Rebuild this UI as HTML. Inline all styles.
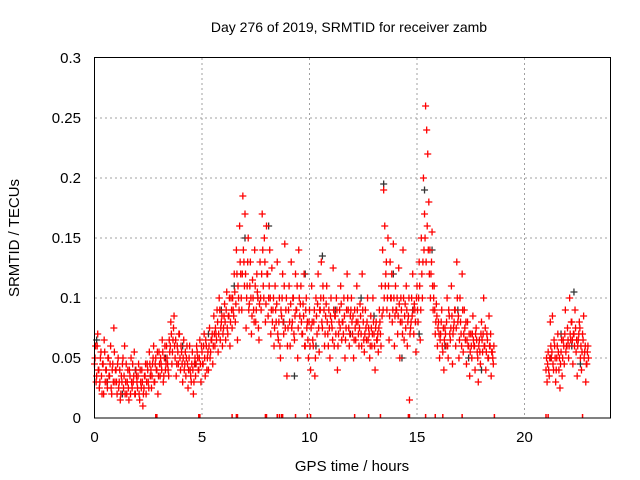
<!DOCTYPE html>
<html><head><meta charset="utf-8"><style>
body{margin:0;background:#fff;}
svg{display:block;font-family:"Liberation Sans",sans-serif;}
</style></head><body>
<svg id="chart" width="640" height="480">
<text x="349" y="32" text-anchor="middle" font-size="14">Day 276 of 2019, SRMTID for receiver zamb</text>
<text x="352" y="471" text-anchor="middle" font-size="15">GPS time / hours</text>
<text transform="translate(19,238) rotate(-90)" text-anchor="middle" font-size="15">SRMTID / TECUs</text>
<g id="grid"></g><g id="ticks"></g><g id="marks"></g>
<rect x="94.5" y="57.5" width="516" height="360.5" fill="none" stroke="#000" stroke-width="1"/>
</svg>
<script>
const xTicks=[0,5,10,15,20];
const yTicks=[0,0.05,0.1,0.15,0.2,0.25,0.3];
const yTickLabels=["0","0.05","0.1","0.15","0.2","0.25","0.3"];
const redT=[0.0,0.05,0.1,0.15,0.2,0.25,0.3,0.35,0.4,0.45,0.5,0.55,0.6,0.65,0.7,0.75,0.8,0.85,0.9,0.95,1.0,1.05,1.1,1.15,1.2,1.25,1.3,1.35,1.4,1.45,1.5,1.55,1.6,1.65,1.7,1.75,1.8,1.85,1.9,1.95,2.0,2.05,2.1,2.15,2.2,2.25,2.3,2.35,2.4,2.45,2.5,2.55,2.6,2.65,2.7,2.75,2.8,2.85,2.9,2.95,3.0,3.05,3.1,3.15,3.2,3.25,3.3,3.35,3.4,3.45,3.5,3.55,3.6,3.65,3.7,3.75,3.8,3.85,3.9,3.95,4.0,4.05,4.1,4.15,4.2,4.25,4.3,4.35,4.4,4.45,4.5,4.55,4.6,4.65,4.7,4.75,4.8,4.85,4.9,4.95,5.0,5.05,5.1,5.15,5.2,5.25,5.3,5.35,5.4,5.45,5.5,5.55,5.6,5.65,5.7,5.75,5.8,5.85,5.9,5.95,6.0,6.05,6.1,6.15,6.2,6.25,6.3,6.35,6.4,6.45,6.5,6.55,6.6,6.65,6.7,6.75,6.8,6.85,6.9,6.95,7.0,7.05,7.1,7.15,7.2,7.25,7.3,7.35,7.4,7.45,7.5,7.55,7.6,7.65,7.7,7.75,7.8,7.85,7.9,7.95,8.0,8.05,8.1,8.15,8.2,8.25,8.3,8.35,8.4,8.45,8.5,8.55,8.6,8.65,8.7,8.75,8.8,8.85,8.9,8.95,9.0,9.05,9.1,9.15,9.2,9.25,9.3,9.35,9.4,9.45,9.5,9.55,9.6,9.65,9.7,9.75,9.8,9.85,9.9,9.95,10.0,10.05,10.1,10.15,10.2,10.25,10.3,10.35,10.4,10.45,10.5,10.55,10.6,10.65,10.7,10.75,10.8,10.85,10.9,10.95,11.0,11.05,11.1,11.15,11.2,11.25,11.3,11.35,11.4,11.45,11.5,11.55,11.6,11.65,11.7,11.75,11.8,11.85,11.9,11.95,12.0,12.05,12.1,12.15,12.2,12.25,12.3,12.35,12.4,12.45,12.5,12.55,12.6,12.65,12.7,12.75,12.8,12.85,12.9,12.95,13.0,13.05,13.1,13.15,13.2,13.25,13.3,13.35,13.4,13.45,13.5,13.55,13.6,13.65,13.7,13.75,13.8,13.85,13.9,13.95,14.0,14.05,14.1,14.15,14.2,14.25,14.3,14.35,14.4,14.45,14.5,14.55,14.6,14.65,14.7,14.75,14.8,14.85,14.9,14.95,15.0,15.05,15.1,15.15,15.2,15.25,15.3,15.35,15.4,15.45,15.5,15.55,15.6,15.65,15.7,15.75,15.8,15.85,15.9,15.95,16.0,16.05,16.1,16.15,16.2,16.25,16.3,16.35,16.4,16.45,16.5,16.55,16.6,16.65,16.7,16.75,16.8,16.85,16.9,16.95,17.0,17.05,17.1,17.15,17.2,17.25,17.3,17.35,17.4,17.45,17.5,17.55,17.6,17.65,17.7,17.75,17.8,17.85,17.9,17.95,18.0,18.05,18.1,18.15,18.2,18.25,18.3,18.35,18.4,18.45,18.5,18.55,21.0,21.05,21.1,21.15,21.2,21.25,21.3,21.35,21.4,21.45,21.5,21.55,21.6,21.65,21.7,21.75,21.8,21.85,21.9,21.95,22.0,22.05,22.1,22.15,22.2,22.25,22.3,22.35,22.4,22.45,22.5,22.55,22.6,22.65,22.7,22.75,22.8,22.85,22.9,22.95];
const redV=[.045,.06,.035,.07,.04,.03,.055,.02,.045,.065,.03,.04,.025,.05,.035,.06,.02,.045,.075,.03,.04,.02,.05,.03,.015,.035,.045,.025,.06,.03,.02,.04,.015,.035,.05,.025,.03,.055,.02,.035,.025,.045,.015,.03,.04,.01,.025,.035,.02,.045,.03,.055,.035,.025,.045,.06,.03,.05,.04,.02,.055,.035,.045,.065,.03,.05,.04,.06,.045,.035,.055,.08,.045,.065,.085,.05,.035,.06,.045,.07,.04,.055,.03,.065,.045,.035,.06,.025,.05,.04,.03,.055,.02,.045,.035,.06,.05,.04,.065,.03,.055,.045,.07,.035,.06,.05,.04,.075,.055,.065,.045,.085,.06,.07,.09,.055,.1,.065,.08,.06,.075,.095,.065,.105,.07,.085,.06,.1,.075,.09,.12,.08,.14,.065,.1,.16,.12,.09,.185,.13,.17,.075,.11,.15,.095,.13,.07,.115,.09,.14,.08,.12,.1,.065,.13,.09,.17,.11,.15,.08,.16,.12,.1,.14,.07,.125,.09,.06,.11,.08,.13,.065,.1,.05,.085,.12,.07,.145,.09,.035,.075,.11,.06,.13,.08,.1,.065,.12,.09,.05,.14,.085,.11,.07,.095,.12,.06,.1,.08,.05,.09,.04,.11,.065,.08,.035,.1,.07,.12,.055,.09,.13,.075,.1,.06,.085,.11,.07,.09,.05,.1,.075,.125,.06,.085,.1,.04,.07,.09,.11,.065,.08,.1,.05,.075,.12,.09,.06,.085,.1,.07,.05,.09,.065,.11,.08,.06,.095,.07,.12,.08,.055,.09,.065,.1,.075,.05,.085,.06,.1,.07,.04,.08,.065,.055,.09,.07,.11,.14,.19,.16,.12,.09,.15,.065,.13,.1,.08,.145,.06,.11,.09,.07,.125,.05,.1,.08,.14,.065,.095,.11,.06,.085,.015,.075,.1,.12,.07,.09,.055,.11,.08,.13,.065,.15,.1,.2,.17,.26,.24,.22,.18,.14,.12,.155,.09,.11,.07,.095,.06,.08,.05,.07,.09,.055,.04,.075,.06,.1,.05,.085,.065,.11,.045,.075,.09,.06,.13,.08,.05,.1,.07,.12,.055,.09,.065,.045,.08,.06,.035,.07,.05,.085,.06,.04,.075,.055,.03,.065,.045,.08,.055,.1,.06,.04,.07,.05,.085,.06,.035,.055,.045,.04,.03,.055,.035,.08,.05,.085,.04,.06,.03,.05,.07,.04,.025,.055,.035,.065,.045,.09,.06,.075,.05,.1,.065,.08,.045,.07,.09,.055,.035,.065,.08,.05,.04,.07,.085,.055,.03,.045,.06];
const redV2=[.05,.03,.06,.04,.025,.05,.035,.045,.02,.055,.04,.03,.05,.035,.045,.025,.04,.03,.055,.04,
.03,.045,.025,.04,.02,.03,.05,.035,.02,.045,.03,.025,.04,.02,.03,.045,.035,.02,.04,.03,
.035,.02,.04,.025,.03,.02,.035,.045,.03,.04,.025,.045,.04,.035,.05,.03,.045,.04,.055,.035,
.045,.05,.04,.055,.035,.06,.045,.05,.04,.065,.06,.07,.055,.075,.06,.065,.045,.055,.07,.05,
.06,.045,.05,.04,.055,.05,.045,.04,.06,.035,.045,.04,.03,.05,.045,.055,.04,.05,.045,.06,
.045,.06,.05,.065,.04,.055,.06,.05,.065,.07,.06,.07,.075,.065,.08,.07,.09,.075,.085,.07,
.085,.08,.09,.075,.085,.1,.08,.09,.1,.085,.105,.095,.12,.11,.09,.13,.1,.12,.14,.11,
.12,.1,.13,.09,.11,.1,.085,.1,.08,.11,.09,.105,.075,.095,.1,.12,.14,.1,.13,.095,
.12,.085,.11,.1,.09,.08,.1,.075,.09,.095,.07,.08,.06,.09,.1,.08,.11,.075,.1,.06,
.09,.08,.095,.075,.1,.07,.085,.09,.11,.075,.1,.095,.08,.07,.085,.06,.09,.075,.065,.08,
.06,.075,.08,.06,.09,.05,.085,.095,.075,.09,.1,.08,.11,.09,.07,.095,.08,.06,.075,.085,
.08,.065,.09,.085,.07,.09,.06,.08,.075,.095,.08,.07,.085,.065,.09,.1,.075,.07,.09,.08,
.085,.065,.075,.08,.09,.07,.075,.085,.06,.09,.065,.07,.075,.08,.065,.07,.06,.075,.07,.08,
.06,.075,.065,.07,.075,.08,.06,.085,.09,.1,.11,.13,.1,.11,.085,.1,.12,.09,.1,.085,
.09,.1,.085,.095,.08,.09,.07,.1,.085,.075,.09,.08,.1,.07,.08,.085,.09,.095,.08,.1,
.09,.1,.11,.09,.12,.13,.14,.15,.13,.16,.14,.12,.1,.13,.11,.1,.09,.08,.085,.075,
.07,.065,.08,.06,.075,.065,.07,.08,.06,.09,.07,.075,.085,.07,.08,.09,.075,.1,.085,.065,
.08,.06,.09,.07,.075,.08,.065,.06,.07,.055,.06,.07,.065,.06,.07,.065,.05,.06,.055,.07,
.065,.07,.06,.075,.055,.065,.05,.06,.07,.055,.05,.06,
.05,.045,.04,.05,.06,.055,.045,.065,.05,.04,.06,.055,.05,.045,.065,.05,.06,.07,.055,.06,
.065,.06,.07,.08,.065,.07,.06,.075,.065,.06,.07,.075,.06,.055,.065,.05,.06,.045,.055,.05];
const blackT=[0.1,0.6,1.3,1.9,2.6,3.3,4.1,4.7,5.3,5.9,6.5,7.0,7.6,8.1,8.8,9.3,9.8,10.3,10.6,11.2,11.9,12.4,13.0,13.45,13.9,14.3,14.8,15.1,15.35,15.7,16.3,16.9,17.4,18.0,21.2,21.7,22.2,22.3,22.6];
const blackV=[.065,.03,.02,.04,.035,.05,.06,.045,.07,.09,.11,.15,.1,.16,.08,.035,.12,.06,.135,.09,.07,.1,.085,.195,.12,.05,.09,.07,.19,.14,.06,.09,.05,.04,.05,.07,.06,.105,.045];
const zeroT=[2.85,2.9,4.85,4.9,6.4,6.6,6.65,7.95,8.0,8.5,8.6,8.7,8.75,9.35,9.9,10.05,12.1,12.75,13.3,14.6,14.65,15.4,15.85,16.2,17.1,18.6,21.0,21.1,22.7];

const NS="http://www.w3.org/2000/svg";
const X=t=>94.5+t*21.5, Y=v=>418-v*1200;
function mk(tag,attrs,parent){const e=document.createElementNS(NS,tag);for(const k in attrs)e.setAttribute(k,attrs[k]);parent.appendChild(e);return e;}
const grid=document.getElementById('grid'),ticks=document.getElementById('ticks'),marks=document.getElementById('marks');
xTicks.forEach(t=>{
  const x=X(t);
  if(t>0){const g=mk('line',{x1:x,x2:x,y1:58,y2:418,stroke:'#a0a0a0','stroke-dasharray':'2,3'},grid);
  
  }
  const l=mk('text',{x:x,y:442,'text-anchor':'middle','font-size':15},ticks);l.textContent=t;
  
  
});
yTicks.forEach((v,i)=>{
  const y=Y(v);
  if(v>0&&v<0.3){const g=mk('line',{x1:95,x2:610,y1:y,y2:y,stroke:'#a0a0a0','stroke-dasharray':'2,3'},grid);
  
  }
  const l=mk('text',{x:81,y:y+5,'text-anchor':'end','font-size':15},ticks);l.textContent=yTickLabels[i];
  
  
});
function plus(t,v,col,name){
  if(v===undefined)return;
  const x=X(t),y=Y(v),s=3.5;
  const p=mk('path',{d:`M${x-s},${y}H${x+s}M${x},${y-s}V${Math.min(y+s,418)}`,stroke:col,'stroke-width':1.3,fill:'none'},marks);
  
  
}
blackT.forEach((t,i)=>plus(t,blackV[i],'#333','black-point'));
redT.forEach((t,i)=>plus(t,redV[i],'#ff0000','red-point'));
redT.forEach((t,i)=>plus(t+0.025,redV2[i],'#ff0000','red-point'));
zeroT.forEach(t=>{
  const x=X(t);
  const p=mk('line',{x1:x,x2:x,y1:414,y2:418,stroke:'#ff0000','stroke-width':1.5},marks);
  
  
});
</script>
</body></html>
